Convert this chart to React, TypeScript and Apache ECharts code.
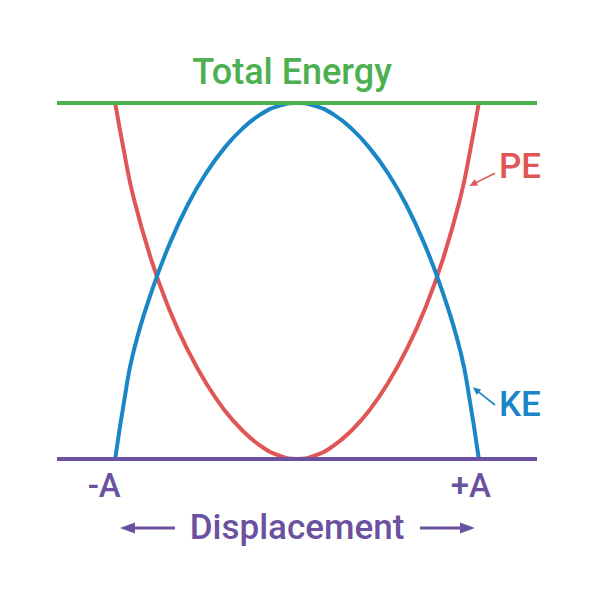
import React, { useEffect, useRef } from "react";
import * as echarts from "echarts";

// Displacement in units of amplitude A
const displacement = [-1, -0.95, -0.9, -0.8, -0.7, -0.6, -0.5, -0.4, -0.3, -0.2, -0.1, 0, 0.1, 0.2, 0.3, 0.4, 0.5, 0.6, 0.7, 0.8, 0.9, 0.95, 1];
// Energies as a fraction of total energy
const potentialEnergy = [1, 0.86, 0.737, 0.557, 0.417, 0.305, 0.213, 0.138, 0.08, 0.037, 0.01, 0, 0.01, 0.037, 0.08, 0.138, 0.213, 0.305, 0.417, 0.557, 0.737, 0.86, 1];
const kineticEnergy = [0, 0.165, 0.3, 0.47, 0.605, 0.715, 0.803, 0.873, 0.928, 0.968, 0.992, 1, 0.992, 0.968, 0.928, 0.873, 0.803, 0.715, 0.605, 0.47, 0.3, 0.165, 0];
const lineExtent = [-1.32, 1.32];
const totalEnergy = 1;
const baseline = 0;
const tickValues = [-1, 1];
const tickLabels = ["-A", "+A"];

const GREEN = "#4caf50";
const RED = "#e05555";
const BLUE = "#1a86c6";
const PURPLE = "#6a52a0";
const FONT = "Roboto";

function arrow(x1: number, y1: number, x2: number, y2: number, color: string, w: number, hl: number, hw: number) {
  const dx = x2 - x1, dy = y2 - y1;
  const len = Math.sqrt(dx * dx + dy * dy);
  const ux = dx / len, uy = dy / len;
  const bx = x2 - ux * hl, by = y2 - uy * hl;
  const px = -uy * hw, py = ux * hw;
  return [
    { type: "line", shape: { x1, y1, x2: bx + ux * 1, y2: by + uy * 1 }, style: { stroke: color, lineWidth: w } },
    { type: "polygon", shape: { points: [[x2, y2], [bx + px, by + py], [bx - px, by - py]] }, style: { fill: color } },
  ];
}

export default function App() {
  const ref = useRef<HTMLDivElement>(null);
  useEffect(() => {
    if (!ref.current) return;
    const chart = echarts.init(ref.current, undefined, { renderer: "svg" });
    const pe = displacement.map((x, i) => [x, potentialEnergy[i]]);
    const ke = displacement.map((x, i) => [x, kineticEnergy[i]]);
    const labelBase = { fontFamily: FONT, fontWeight: 500, fontSize: 33, color: PURPLE };
    chart.setOption({
      animation: false,
      backgroundColor: "#ffffff",
      grid: { left: 57, right: 63, top: 103, bottom: 141 },
      xAxis: {
        type: "value",
        min: lineExtent[0],
        max: lineExtent[1],
        axisLine: { show: false },
        axisTick: { show: false },
        splitLine: { show: false },
        axisLabel: {
          customValues: tickValues,
          formatter: (v: number) => {
            const i = tickValues.indexOf(v);
            if (i < 0) return "";
            return `{${i === 0 ? "l" : "r"}|${tickLabels[i]}}`;
          },
          ...labelBase,
          margin: 10,
          rich: {
            l: { ...labelBase, padding: [0, 22, 0, 0] },
            r: { ...labelBase, padding: [0, 16, 0, 0] },
          },
        },
      },
      yAxis: { type: "value", min: 0, max: 1, show: false },
      series: [
        {
          type: "line",
          name: "Total Energy",
          data: lineExtent.map((x) => [x, totalEnergy]),
          showSymbol: false,
          clip: false,
          lineStyle: { color: GREEN, width: 4 },
          z: 3,
        },
        {
          type: "line",
          name: "Baseline",
          data: lineExtent.map((x) => [x, baseline]),
          showSymbol: false,
          clip: false,
          lineStyle: { color: PURPLE, width: 4 },
          z: 3,
        },
        {
          type: "line",
          name: "PE",
          data: pe,
          smooth: 0.5,
          showSymbol: false,
          clip: false,
          lineStyle: { color: RED, width: 4 },
          z: 2,
        },
        {
          type: "line",
          name: "KE",
          data: ke,
          smooth: 0.5,
          showSymbol: false,
          clip: false,
          lineStyle: { color: BLUE, width: 4 },
          z: 2,
        },
      ],
      graphic: [
        {
          type: "text",
          x: 292,
          y: 72,
          style: { text: "Total Energy", fill: GREEN, font: `500 36px ${FONT}`, align: "center", verticalAlign: "middle" },
        },
        {
          type: "text",
          x: 297,
          y: 527,
          style: { text: "Displacement", fill: PURPLE, font: `500 35px ${FONT}`, align: "center", verticalAlign: "middle" },
        },
        {
          type: "text",
          x: 499,
          y: 166,
          style: { text: "PE", fill: RED, font: `500 35px ${FONT}`, align: "left", verticalAlign: "middle" },
        },
        {
          type: "text",
          x: 499,
          y: 404,
          style: { text: "KE", fill: BLUE, font: `500 35px ${FONT}`, align: "left", verticalAlign: "middle" },
        },
        ...arrow(175, 528, 120, 528, PURPLE, 3, 15, 5.5),
        ...arrow(420, 528, 475, 528, PURPLE, 3, 15, 5.5),
        ...arrow(495, 173.3, 469.3, 186, RED, 1.6, 8, 3.5),
        ...arrow(495, 405, 472.7, 387.3, BLUE, 1.6, 8, 3.5),
      ],
    });
    return () => chart.dispose();
  }, []);
  return <div ref={ref} style={{ position: "absolute", left: 0, top: 0, width: 600, height: 600 }} />;
}
